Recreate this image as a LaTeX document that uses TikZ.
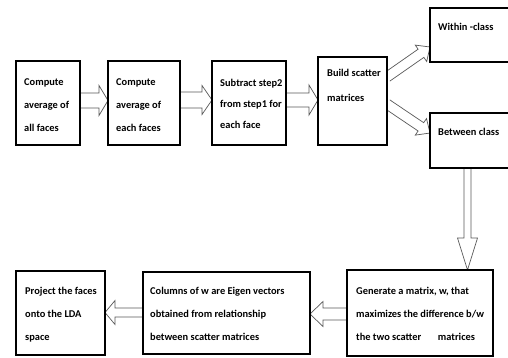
\documentclass[tikz,border=0pt]{standalone}
\usepackage{fontspec}
\setmainfont{Carlito}
\usetikzlibrary{calc,shadows,backgrounds}
\newcommand\blockarrow[5]{%
  \coordinate (ba-a) at #1;
  \coordinate (ba-b) at #2;
  \coordinate (ba-h) at ($(ba-b)!#5!(ba-a)$);
  \draw[arrowline] ($(ba-a)!#3!90:(ba-b)$) -- ($(ba-h)!#3!-90:(ba-a)$)
    -- ($(ba-h)!#4!-90:(ba-a)$) -- (ba-b) -- ($(ba-h)!#4!90:(ba-a)$)
    -- ($(ba-h)!#3!90:(ba-a)$) -- ($(ba-a)!#3!-90:(ba-b)$);
}
\begin{document}
\begin{tikzpicture}[x=1pt,y=-1pt,
  box/.style={draw=black, line width=1.5pt, fill=white, rectangle, inner sep=0pt, outer sep=0pt,
    drop shadow={shadow xshift=0.8pt, shadow yshift=-1pt, fill=black!60, opacity=0.45}},
  arrowline/.style={draw=black!65, line width=0.7pt, fill=white, line join=miter},
  txt/.style={anchor=base west, inner sep=0pt, font=\fontsize{10.4}{23}\selectfont\bfseries}]
\useasboundingbox (0,0) rectangle (508,358);
\begin{pgfonlayer}{background}
\fill[white] (0,0) rectangle (508,358);
\end{pgfonlayer}

\node[box, minimum width=64pt, minimum height=84pt] (b1) at (48,103) {};
\node[box, minimum width=72pt, minimum height=84pt] (b2) at (144,103) {};
\node[box, minimum width=74pt, minimum height=84pt] (b3) at (249,103) {};
\node[box, minimum width=69pt, minimum height=88pt] (b4) at (352.5,101) {};
\node[box, minimum width=80pt, minimum height=54pt] (b5) at (470,35) {};
\node[box, minimum width=80pt, minimum height=55pt] (b6) at (470,140.5) {};
\node[box, minimum width=146pt, minimum height=86pt] (b7) at (420,313) {};
\node[box, minimum width=167pt, minimum height=82pt] (b8) at (226.5,313) {};
\node[box, minimum width=89pt, minimum height=84pt] (b9) at (60.5,313) {};

\node[txt] (t1) at ($(b1.north west)+(8,24.5)$) {\vtop{\hbox{Compute}\hbox{average of}\hbox{all faces}}};
\node[txt] (t2) at ($(b2.north west)+(8,24.5)$) {\vtop{\hbox{Compute}\hbox{average of}\hbox{each faces}}};
\node[txt, font=\fontsize{10.4}{21}\selectfont\bfseries] (t3) at ($(b3.north west)+(8,25.5)$) {\vtop{\hbox{Subtract step2}\hbox{from step1 for}\hbox{each face}}};
\node[txt, font=\fontsize{10.4}{25}\selectfont\bfseries] (t4) at ($(b4.north west)+(9,19.5)$) {\vtop{\hbox{Build scatter}\hbox{matrices}}};
\node[txt] (t5) at ($(b5.north west)+(8,22.5)$) {Within -class};
\node[txt] (t6) at ($(b6.north west)+(8,22.5)$) {Between class};
\node[txt] (t7) at ($(b7.north west)+(9,24)$) {\vtop{\hbox{Generate a matrix, w, that}\hbox{maximizes the difference b/w}\hbox{the two scatter\hspace{1.6em}matrices}}};
\node[txt] (t8) at ($(b8.north west)+(7,22)$) {\vtop{\hbox{Columns of w are Eigen vectors}\hbox{obtained from relationship}\hbox{between scatter matrices}}};
\node[txt] (t9) at ($(b9.north west)+(9,23)$) {\vtop{\hbox{Project the faces}\hbox{onto the LDA}\hbox{space}}};

\begin{pgfonlayer}{background}
\blockarrow{($(b1.east)+(0,-2.5)$)}{($(b2.west)+(0,-2.5)$)}{7.5pt}{15pt}{9pt}
\blockarrow{($(b2.east)+(0,-3)$)}{($(b3.west)+(0,-3)$)}{8pt}{14.5pt}{10pt}
\blockarrow{($(b3.east)+(0,-3)$)}{($(b4.west)+(0,-1)$)}{7pt}{15pt}{9pt}
\blockarrow{($(b4.east)+(0,-24)$)}{($(b5.west)+(0,12)$)}{5pt}{10pt}{11pt}
\blockarrow{($(b4.east)+(0,3)$)}{($(b6.west)+(0,-7.5)$)}{5pt}{10pt}{11pt}
\coordinate (dtop) at ($(b6.south west)+(37.5,0)$);
\coordinate (dbot) at (dtop |- b7.north);
\blockarrow{(dtop)}{(dbot)}{3.5pt}{10pt}{32pt}
\blockarrow{($(b7.west)+(0,1)$)}{($(b8.east)+(0,1)$)}{6pt}{12.5pt}{13pt}
\blockarrow{($(b8.west)+(0,-0.5)$)}{($(b9.east)+(0,-0.5)$)}{4.5pt}{12pt}{10pt}
\end{pgfonlayer}
\end{tikzpicture}
\end{document}
